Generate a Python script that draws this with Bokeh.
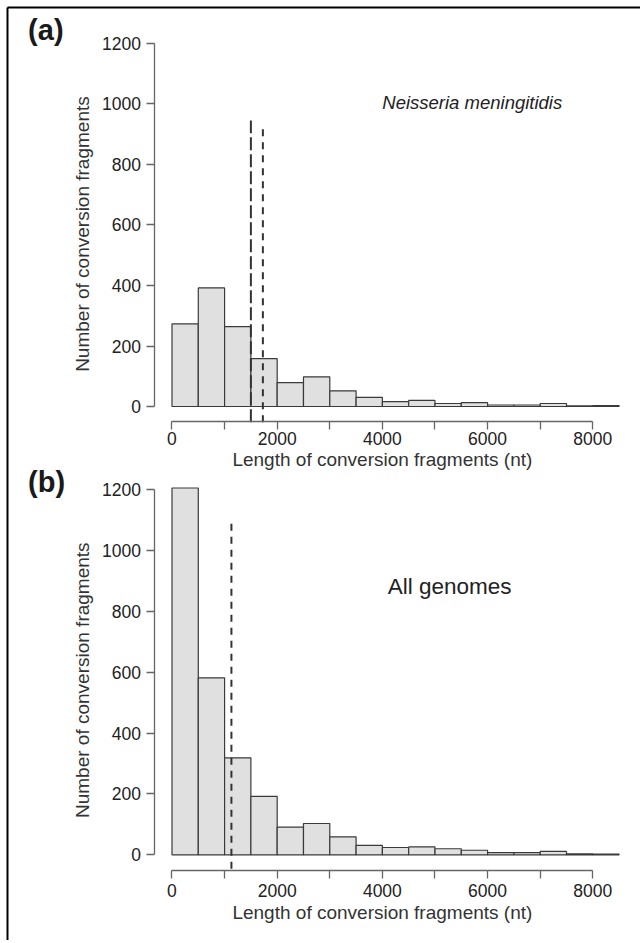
import math
from bokeh.plotting import figure
from bokeh.models import FixedTicker, Range1d, LinearAxis
from bokeh.core.properties import value
from bokeh.embed import file_html
from bokeh.resources import INLINE

FONT = "Liberation Sans"

# ---- data ----
bin_width = 500
bin_starts = [0, 500, 1000, 1500, 2000, 2500, 3000, 3500, 4000, 4500,
              5000, 5500, 6000, 6500, 7000, 7500, 8000]
nm_counts = [273, 392, 264, 158, 79, 98, 52, 30, 16, 20, 10, 13, 5, 5, 10, 2, 3]
all_counts = [1206, 582, 319, 192, 91, 103, 59, 31, 24, 26, 20, 15, 7, 7, 11, 3, 2]

y_ticks = [0, 200, 400, 600, 800, 1000, 1200]
x_ticks = [0, 2000, 4000, 6000, 8000]
x_minor_ticks = [1000, 3000, 5000, 7000]

nm_mean_line = 1500      # long dashed
nm_mean_top = 945
nm_median_line = 1728    # short dashed
nm_median_top = 934
all_line = 1130
all_line_top = 1099

x_title = "Length of conversion fragments (nt)"
y_title = "Number of conversion fragments"

X_START, X_END = -3260, 8907
Y_AXIS_AT = -323
BORDER_X = -3127

# panel (a) uses the default y range, panel (b) an extra range "b"
A_Y0, A_Y1 = -1765, 1342
B_Y0, B_Y1 = -281.7, 2808.6

p = figure(width=640, height=940, output_backend="svg", toolbar_location=None,
           x_range=Range1d(X_START, X_END), y_range=Range1d(A_Y0, A_Y1),
           min_border_left=0, min_border_right=0,
           min_border_top=0, min_border_bottom=0)
p.extra_y_ranges = {"b": Range1d(B_Y0, B_Y1)}
p.outline_line_color = None
p.grid.visible = False
p.background_fill_color = "white"
p.border_fill_color = "white"

xa = p.xaxis[0]
ya = p.yaxis[0]
xb = LinearAxis(y_range_name="b")
yb = LinearAxis(y_range_name="b")
p.add_layout(xb, "below")
p.add_layout(yb, "left")

for ax, loc, standoff in ((xa, -49.6, 2), (xb, -50, 6)):
    ax.ticker = FixedTicker(ticks=x_ticks, minor_ticks=x_minor_ticks)
    ax.bounds = (0, 8000)
    ax.fixed_location = loc
    ax.major_label_standoff = standoff
    ax.minor_tick_out = 8
for ax in (ya, yb):
    ax.ticker = FixedTicker(ticks=y_ticks, minor_ticks=[])
    ax.bounds = (0, 1200)
    ax.fixed_location = Y_AXIS_AT
    ax.major_label_standoff = 6
    ax.minor_tick_out = 0
for ax in (xa, xb, ya, yb):
    ax.axis_line_color = "#666666"
    ax.axis_line_width = 1.3
    ax.major_tick_line_color = "#666666"
    ax.major_tick_line_width = 1.3
    ax.minor_tick_line_color = "#666666"
    ax.minor_tick_line_width = 1.3
    ax.major_tick_out = 8
    ax.major_tick_in = 0
    ax.minor_tick_in = 0
    ax.major_label_text_font = FONT
    ax.major_label_text_font_size = "17.5px"
    ax.major_label_text_color = "#222222"

rights = [s + bin_width for s in bin_starts]

# ---- panel (a) ----
p.quad(left=bin_starts, right=rights, bottom=0, top=nm_counts,
       fill_color="#e0e0e0", line_color="#3a3a3a", line_width=1.2)
p.segment(x0=[nm_mean_line], y0=[-52], x1=[nm_mean_line], y1=[nm_mean_top],
          line_color="#333333", line_width=2, line_dash="13 4")
p.segment(x0=[nm_median_line], y0=[-52], x1=[nm_median_line], y1=[nm_median_top],
          line_color="#333333", line_width=2, line_dash="7 6")
p.text(x=[7419], y=[1004], text=["Neisseria meningitidis"],
       text_font=value(FONT), text_font_size="18.5px", text_font_style="italic",
       text_align="right", text_baseline="alphabetic", text_color="#222222")

# ---- panel (b) ----
p.quad(left=bin_starts, right=rights, bottom=0, top=all_counts, y_range_name="b",
       fill_color="#e0e0e0", line_color="#3a3a3a", line_width=1.2)
p.segment(x0=[all_line], y0=[-46], x1=[all_line], y1=[all_line_top], y_range_name="b",
          line_color="#333333", line_width=2, line_dash="7 6")
p.text(x=[4103], y=[881], text=["All genomes"], y_range_name="b",
       text_font=value(FONT), text_font_size="22.5px",
       text_align="left", text_baseline="alphabetic", text_color="#222222")


def add_texts(range_name, panel_letter, letter_y, ytitle_y, xtitle_y):
    p.text(x=[-2735], y=[letter_y], text=[panel_letter], y_range_name=range_name,
           text_font=value(FONT), text_font_size="29px", text_font_style="bold",
           text_align="left", text_baseline="alphabetic", text_color="#1a1a1a")
    p.text(x=[-1700], y=[ytitle_y], text=[y_title], angle=math.pi / 2,
           y_range_name=range_name,
           text_font=value(FONT), text_font_size="19px",
           text_align="center", text_baseline="alphabetic", text_color="#333333")
    p.text(x=[4000], y=[xtitle_y], text=[x_title], y_range_name=range_name,
           text_font=value(FONT), text_font_size="19px",
           text_align="center", text_baseline="alphabetic", text_color="#333333")


add_texts("default", "(a)", 1246, 570, -176)
add_texts("b", "(b)", 1224, 574, -191)

# figure border (left and top)
p.segment(x0=[BORDER_X, BORDER_X], y0=[A_Y0, 1319], x1=[BORDER_X, X_END],
          y1=[1319, 1319], line_color="#000000", line_width=2)

open("out.html", "w").write(file_html(p, INLINE))
